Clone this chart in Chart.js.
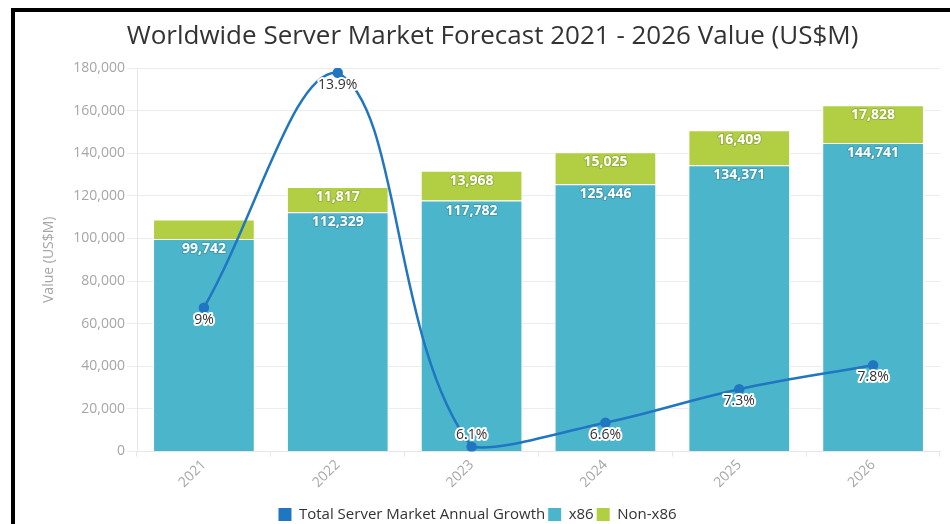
<!DOCTYPE html>
<html>
<head>
<meta charset="utf-8">
<script src="https://cdn.jsdelivr.net/npm/chart.js@4"></script>
<style>
  html, body { margin: 0; padding: 0; background: #fff; overflow: hidden; }
  #frame {
    position: absolute; left: 11px; top: 8px;
    width: 939px; height: 530px;
    border-left: 4px solid #000; border-top: 4px solid #000;
  }
  #box { position: absolute; left: 0; top: 0; width: 935px; height: 520px; }
</style>
</head>
<body>
<div id="frame"><div id="box"><canvas id="myChart"></canvas></div></div>
<script>
// données
const years = ["2021", "2022", "2023", "2024", "2025", "2026"];
const x86 = [99742, 112329, 117782, 125446, 134371, 144741];
const nonX86 = [9160, 11817, 13968, 15025, 16409, 17828];
const growth = [9, 13.9, 6.1, 6.6, 7.3, 7.8];
const growthLabels = ["9%", "13.9%", "6.1%", "6.6%", "7.3%", "7.8%"];

const chartTitle = "Worldwide Server Market Forecast 2021 - 2026 Value (US$M)";
const fontFamily = "'Open Sans', sans-serif";
const greyText = "#a6a6a6";

// titre + étiquettes sur les barres et les points
const valueLabels = {
  id: "valueLabels",
  afterDatasetsDraw(chart) {
    const ctx = chart.ctx;
    ctx.save();
    ctx.textAlign = "center";
    ctx.textBaseline = "middle";
    ctx.lineJoin = "round";

    ctx.font = "26px " + fontFamily;
    ctx.fillStyle = "#333";
    ctx.fillText(chartTitle, chart.width / 2 + 10, 25);

    // barres
    ctx.font = "bold 14px " + fontFamily;
    [1, 2].forEach((i) => {
      const meta = chart.getDatasetMeta(i);
      const values = chart.data.datasets[i].data;
      meta.data.forEach((bar, j) => {
        const h = bar.base - bar.y;
        if (h < 22) return;
        const txt = values[j].toLocaleString("en-US");
        ctx.lineWidth = 2;
        ctx.strokeStyle = "rgba(0,0,0,0.15)";
        ctx.strokeText(txt, bar.x, bar.y + 10);
        ctx.fillStyle = "#fff";
        ctx.fillText(txt, bar.x, bar.y + 10);
      });
    });

    // croissance
    ctx.font = "14px " + fontFamily;
    const bottom = chart.chartArea.bottom;
    const lineMeta = chart.getDatasetMeta(0);
    lineMeta.data.forEach((pt, j) => {
      const txt = growthLabels[j];
      const y = pt.y + 20 > bottom ? pt.y - 12 : pt.y + 12;
      ctx.lineWidth = 4;
      ctx.strokeStyle = "#fff";
      ctx.strokeText(txt, pt.x, y);
      ctx.fillStyle = "#333";
      ctx.fillText(txt, pt.x, y);
    });
    ctx.restore();
  },
};

const data = {
  labels: years,
  datasets: [
    {
      type: "line",
      label: "Total Server Market Annual Growth",
      data: growth,
      yAxisID: "y2",
      borderColor: "#2176c1",
      backgroundColor: "#2176c1",
      borderWidth: 2.5,
      pointRadius: 4,
      pointHoverRadius: 4,
      tension: 0.4,
      order: 0,
    },
    {
      type: "bar",
      label: "x86",
      data: x86,
      backgroundColor: "#4bb5cc",
      borderColor: "#ffffff",
      borderWidth: 1,
      stack: "s",
      order: 1,
    },
    {
      type: "bar",
      label: "Non-x86",
      data: nonX86,
      backgroundColor: "#b2cf43",
      borderColor: "#ffffff",
      borderWidth: 1,
      stack: "s",
      order: 1,
    },
  ],
};

const config = {
  type: "bar",
  data: data,
  options: {
    responsive: true,
    maintainAspectRatio: false,
    animation: false,
    layout: { padding: { left: 0, right: 10, top: 56, bottom: 0 } },
    datasets: { bar: { categoryPercentage: 1, barPercentage: 0.76 } },
    scales: {
      x: {
        stacked: true,
        grid: { drawOnChartArea: false, drawTicks: true, tickLength: 5, color: "#e6e6e6" },
        border: { color: "#e6e6e6" },
        afterFit: (scale) => { scale.height = scale.height + 13; },
        ticks: {
          color: greyText,
          font: { family: fontFamily, size: 14 },
          minRotation: 45,
          maxRotation: 45,
          padding: 0,
        },
      },
      y: {
        stacked: true,
        min: 0,
        max: 180000,
        afterFit: (scale) => { scale.width = 122; },
        ticks: {
          stepSize: 20000,
          color: greyText,
          font: { family: fontFamily, size: 14 },
          padding: 2,
          callback: (v) => v.toLocaleString("en-US"),
        },
        grid: { color: "#ececec", tickLength: 10 },
        border: { color: "#e6e6e6" },
        title: {
          display: true,
          text: "Value (US$M)",
          color: greyText,
          font: { family: fontFamily, size: 14 },
          padding: { top: 26, bottom: 0 },
        },
      },
      y2: {
        display: false,
        min: 6,
        max: 14,
      },
    },
    plugins: {
      title: { display: false },
      legend: {
        position: "bottom",
        labels: {
          color: "#333",
          font: { family: fontFamily, size: 15 },
          boxWidth: 13,
          boxHeight: 13,
          padding: 3,
          useBorderRadius: true,
          borderRadius: 3,
          generateLabels: (chart) =>
            chart.data.datasets.map((ds, i) => ({
              text: ds.label,
              fillStyle: ds.type === "line" ? ds.borderColor : ds.backgroundColor,
              strokeStyle: "rgba(0,0,0,0)",
              lineWidth: 0,
              hidden: !chart.isDatasetVisible(i),
              datasetIndex: i,
              fontColor: "#333",
            })),
        },
      },
      tooltip: { enabled: false },
    },
  },
  plugins: [valueLabels],
};

const myChart = new Chart(document.getElementById("myChart"), config);
</script>
</body>
</html>
